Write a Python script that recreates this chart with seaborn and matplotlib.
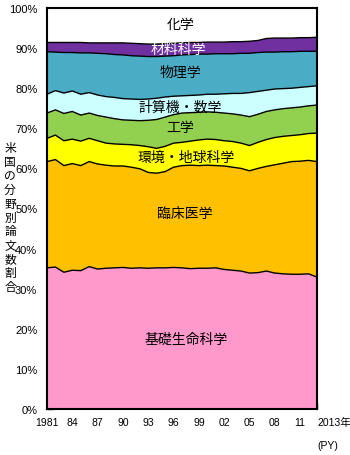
import numpy as np
import pandas as pd
import matplotlib
matplotlib.use("Agg")
import matplotlib.pyplot as plt
import seaborn as sns

# 米国の分野別論文数割合 (%), 1981-2013
years = list(range(1981, 2014))

basic_life = [35.2, 35.4, 34.1, 34.6, 34.5, 35.5, 34.9, 35.1, 35.2, 35.3, 35.1,
              35.2, 35.1, 35.2, 35.2, 35.3, 35.2, 35.0, 35.1, 35.1, 35.2, 34.8,
              34.6, 34.4, 33.9, 34.0, 34.4, 33.9, 33.7, 33.6, 33.6, 33.7, 32.9]
clinical = [26.5, 26.8, 26.6, 26.6, 26.2, 26.2, 26.2, 25.7, 25.4, 25.3, 25.2,
            24.7, 23.9, 23.6, 24.0, 25.0, 25.5, 25.8, 25.6, 25.7, 25.5, 25.8,
            25.7, 25.6, 25.5, 26.0, 26.1, 27.0, 27.6, 28.1, 28.2, 28.3, 28.8]
env_earth = [5.8, 6.1, 6.2, 6.1, 6.1, 5.8, 5.8, 5.5, 5.5, 5.4, 5.6,
             5.8, 6.4, 6.2, 6.3, 6.0, 5.8, 6.0, 6.4, 6.5, 6.5, 6.3,
             6.4, 6.3, 6.3, 6.5, 6.7, 6.8, 6.7, 6.5, 6.6, 6.7, 7.1]
engineering = [6.3, 6.3, 6.8, 6.9, 6.5, 6.3, 6.3, 6.5, 6.3, 6.1, 6.1,
               6.2, 6.6, 7.2, 7.3, 7.1, 7.3, 7.1, 6.9, 6.8, 6.8, 6.9,
               6.9, 7.0, 7.2, 7.0, 7.0, 6.9, 6.9, 6.9, 6.9, 6.9, 7.0]
comp_math = [4.7, 4.8, 5.1, 5.1, 5.2, 5.1, 5.1, 5.1, 5.3, 5.3, 5.3,
             5.3, 5.3, 5.3, 5.0, 4.6, 4.3, 4.3, 4.3, 4.4, 4.5, 4.8,
             5.1, 5.4, 6.0, 5.7, 5.3, 5.2, 5.0, 4.9, 4.9, 4.8, 4.8]
physics = [10.6, 9.6, 10.1, 9.6, 10.3, 9.9, 10.4, 10.7, 10.7, 10.9, 10.8,
           10.8, 10.6, 10.4, 10.2, 10.1, 10.2, 10.2, 10.2, 10.0, 10.1, 10.0,
           9.9, 10.0, 9.8, 9.7, 9.5, 9.2, 9.2, 9.1, 9.0, 8.8, 8.6]
materials = [2.3, 2.4, 2.5, 2.5, 2.6, 2.5, 2.6, 2.7, 2.9, 3.0, 3.1,
             3.1, 3.1, 3.1, 3.1, 3.1, 3.0, 3.0, 2.9, 3.0, 2.9, 2.9,
             3.0, 2.9, 3.0, 3.0, 3.4, 3.5, 3.4, 3.4, 3.4, 3.4, 3.5]
chemistry = [8.6, 8.6, 8.6, 8.6, 8.6, 8.7, 8.7, 8.7, 8.7, 8.7, 8.8,
             8.9, 9.0, 9.0, 8.9, 8.8, 8.7, 8.6, 8.6, 8.5, 8.5, 8.5,
             8.4, 8.4, 8.3, 8.1, 7.6, 7.5, 7.5, 7.5, 7.4, 7.4, 7.3]

fields = ["基礎生命科学", "臨床医学", "環境・地球科学", "工学",
          "計算機・数学", "物理学", "材料科学", "化学"]
series = [basic_life, clinical, env_earth, engineering,
          comp_math, physics, materials, chemistry]
colors = ["#FF99CC", "#FFC000", "#FFFF00", "#92D050",
          "#CCFFFF", "#4BACC6", "#7030A0", "#FFFFFF"]

# label anchor (year, %) and text colour for each field
label_pos = [(1997.5, 17.5), (1997.3, 49.0), (1997.5, 62.8), (1996.8, 70.3),
             (1996.8, 75.3), (1996.8, 84.0), (1996.6, 89.9), (1996.8, 96.0)]
label_colors = ["#000000"] * 6 + ["#FFFFFF", "#000000"]

xtick_years = [1981, 1984, 1987, 1990, 1993, 1996, 1999, 2002, 2005, 2008, 2011, 2013]
xtick_labels = ["1981", "84", "87", "90", "93", "96", "99", "02", "05", "08", "11", "2013年"]
ytick_vals = list(range(0, 101, 10))
ytick_labels = [f"{v}%" for v in ytick_vals]
ylabel = "米国の分野別論文数割合"

sns.set_theme(style="white")
plt.rcParams["font.family"] = ["Liberation Sans", "Noto Sans CJK JP", "DejaVu Sans"]

df = pd.DataFrame(dict(zip(fields, series)), index=years)
df.index.name = "year"
cum = df.cumsum(axis=1)

fig = plt.figure(figsize=(3.5, 4.56), dpi=100)
ax = fig.add_axes([47 / 350, 46 / 456, 270 / 350, 401 / 456])

ax.stackplot(df.index, *[df[f] for f in fields], colors=colors,
             edgecolor="none", linewidth=0)

# boundary lines between fields
long = cum[fields[:-1]].reset_index().melt(id_vars="year", var_name="field", value_name="top")
sns.lineplot(data=long, x="year", y="top", units="field", estimator=None,
             color="black", linewidth=1.0, ax=ax, legend=False)

for name, (lx, ly), lc in zip(fields, label_pos, label_colors):
    ax.text(lx, ly, name, ha="center", va="center", fontsize=10, color=lc,
            family=["Noto Sans CJK JP", "DejaVu Sans"])

ax.set_xlim(1981, 2013)
ax.set_ylim(0, 100)
ax.set_xlabel("")
ax.set_ylabel("")

ax.set_xticks(xtick_years)
ax.set_xticklabels(xtick_labels, fontsize=7.5)
ax.set_xticks(years, minor=True)
ax.set_yticks(ytick_vals)
ax.set_yticklabels(ytick_labels, fontsize=8)
ax.tick_params(axis="both", which="both", direction="in", length=4, width=1,
               color="black", colors="black")
ax.tick_params(axis="x", which="both", bottom=True, top=False, pad=6)
ax.tick_params(axis="y", which="both", left=True, right=False, pad=7)
last = ax.get_xticklabels()[-1]
last.set_ha("left")
last.set_x(2012.6)

for sp in ax.spines.values():
    sp.set_visible(True)
    sp.set_color("black")
    sp.set_linewidth(1.5)

ax.text(1.0, -0.078, "(PY)", transform=ax.transAxes, ha="left", va="top",
        fontsize=7.5, color="black")

# vertical stacked axis title
for i, ch in enumerate(ylabel):
    fig.text(10 / 350, 1 - (149 + i * 13.8) / 456, ch, ha="center", va="center",
             fontsize=8.5, family=["Noto Sans CJK JP", "DejaVu Sans"], color="black")

fig.savefig("out.png", dpi=100)
